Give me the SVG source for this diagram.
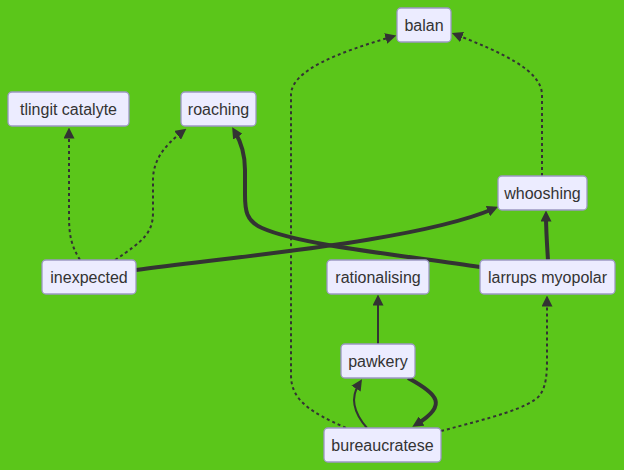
<svg xmlns="http://www.w3.org/2000/svg" width="624" height="470" viewBox="0 0 624 470">
<style>
.bg{fill:#5bc61a}
.node rect{fill:#ececff;stroke:#9c98c4;stroke-width:1.3}
.node text{font-family:"Liberation Sans",Arial,sans-serif;font-size:16px;fill:#333;text-anchor:middle}
.e{fill:none;stroke:#333}
.n{stroke-width:2}
.t{stroke-width:4}
.d{stroke-width:2;stroke-dasharray:3 3}
</style>
<defs>
<marker id="ah" viewBox="0 0 10 10" refX="5" refY="5" markerUnits="userSpaceOnUse" markerWidth="11" markerHeight="11" orient="auto">
<path d="M0,0 L10,5 L0,10 z" fill="#333"/>
</marker>
</defs>
<rect class="bg" x="0" y="0" width="624" height="470"/>
<g id="edges">
<path class="e d" marker-end="url(#ah)" d="M80,260 C71,245 69,235 69,215 L69,133"/>
<path class="e d" marker-end="url(#ah)" d="M115,260 C145,240 153,232 153,212 L153,180 C153,160 165,145 182,132"/>
<path class="e t" marker-end="url(#ah)" d="M136,270 C250,255 420,240 493,209"/>
<path class="e t" marker-end="url(#ah)" d="M480,267 C400,255 300,245 262,228 C246,221 245,210 245,195 L245,170 C245,155 241,142 235,132"/>
<path class="e t" marker-end="url(#ah)" d="M548,260 C547,245 546,230 546,216"/>
<path class="e d" marker-end="url(#ah)" d="M542,176 L542,95 C542,70 500,52 457,35"/>
<path class="e d" marker-end="url(#ah)" d="M346,428 C310,412 291,400 291,375 L291,95 C291,70 340,52 391,37"/>
<path class="e n" marker-end="url(#ah)" d="M378,344 L378,300"/>
<path class="e n" marker-end="url(#ah)" d="M367,428 C353,412 350,398 359,384"/>
<path class="e t" marker-end="url(#ah)" d="M408,378 C438,394 448,405 417,424"/>
<path class="e d" marker-end="url(#ah)" d="M441,431 C490,418 530,408 540,395 C546,386 547,375 547,360 L547,301"/>
</g>
<g id="balan" class="node"><rect x="397" y="8" width="54" height="34" rx="4"/><text x="424" y="30.5">balan</text></g>
<g id="tlingit-catalyte" class="node"><rect x="8" y="92" width="121" height="34" rx="4"/><text x="68.5" y="114.5">tlingit catalyte</text></g>
<g id="roaching" class="node"><rect x="181" y="92" width="75" height="34" rx="4"/><text x="218.5" y="114.5">roaching</text></g>
<g id="whooshing" class="node"><rect x="498" y="176" width="89" height="34" rx="4"/><text x="542.5" y="198.5">whooshing</text></g>
<g id="inexpected" class="node"><rect x="42" y="260" width="94" height="34" rx="4"/><text x="89" y="282.5">inexpected</text></g>
<g id="rationalising" class="node"><rect x="327" y="260" width="102" height="34" rx="4"/><text x="378" y="282.5">rationalising</text></g>
<g id="larrups-myopolar" class="node"><rect x="480" y="260" width="135" height="34" rx="4"/><text x="547.5" y="282.5">larrups myopolar</text></g>
<g id="pawkery" class="node"><rect x="341" y="344" width="74" height="34" rx="4"/><text x="378" y="366.5">pawkery</text></g>
<g id="bureaucratese" class="node"><rect x="324" y="428" width="117" height="34" rx="4"/><text x="382.5" y="450.5">bureaucratese</text></g>
</svg>
